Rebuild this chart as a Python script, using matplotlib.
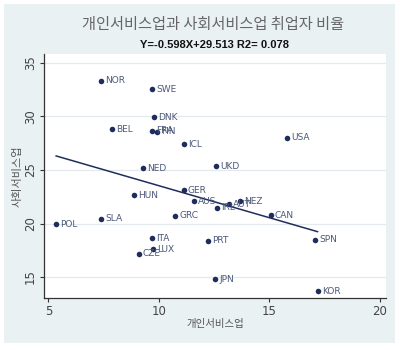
import matplotlib
matplotlib.use("Agg")
import matplotlib.pyplot as plt
from matplotlib.patches import Rectangle
import numpy as np

countries = ["NOR", "SWE", "DNK", "BEL", "FRA", "FIN", "ICL", "NED", "UKD", "USA",
             "GER", "HUN", "AUS", "AUT", "IRL", "NEZ", "CAN", "GRC", "SLA", "POL",
             "SPN", "ITA", "PRT", "LUX", "CZE", "JPN", "KOR"]
personal = [7.36, 9.68, 9.76, 7.86, 9.68, 9.91, 11.12, 9.29, 12.59, 15.79,
            11.12, 8.89, 11.59, 13.17, 12.64, 13.68, 15.06, 10.74, 7.38, 5.35,
            17.06, 9.68, 12.21, 9.74, 9.08, 12.56, 17.18]
social = [33.32, 32.54, 29.93, 28.80, 28.67, 28.58, 27.43, 25.16, 25.37, 28.02,
          23.13, 22.66, 22.10, 21.82, 21.48, 22.10, 20.77, 20.73, 20.45, 19.93,
          18.46, 18.62, 18.39, 17.59, 17.18, 14.81, 13.69]
slope, intercept, r2 = -0.598, 29.513, 0.078
x_ticks = [5, 10, 15, 20]
y_ticks = [15, 20, 25, 30, 35]

kr = ["Noto Sans CJK KR", "DejaVu Sans"]
panel = "#e9f1f3"
navy = "#1f2d5c"

fig = plt.figure(figsize=(4.0, 3.5), dpi=100)
fig.patch.set_facecolor("white")
bg = Rectangle((4 / 400, 1 - 343 / 350), 391 / 400, 339 / 350,
               transform=fig.transFigure, facecolor=panel, edgecolor="none",
               zorder=-10)
fig.add_artist(bg)

ax = fig.add_axes([44 / 400, 1 - 298 / 350, 342 / 400, 244 / 350])
ax.set_zorder(1)
ax.set_facecolor("white")
ax.set_xlim(4.8, 20.28)
ax.set_ylim(13.04, 35.84)

ax.set_yticks(y_ticks)
ax.set_xticks(x_ticks)
ax.grid(axis="y", color="#e3e9ec", linewidth=0.9)
ax.set_axisbelow(True)
for s in ["top", "right"]:
    ax.spines[s].set_visible(False)
for s in ["left", "bottom"]:
    ax.spines[s].set_color("#333333")
    ax.spines[s].set_linewidth(0.9)
ax.tick_params(axis="both", direction="out", length=3, width=0.8, color="#333333",
               labelsize=8.5, labelcolor="#444444")
for lab in ax.get_yticklabels():
    lab.set_rotation(90)
    lab.set_va("center")
ax.tick_params(axis="y", pad=2)
ax.tick_params(axis="x", pad=2)

# fitted line
xs = np.array([min(personal), max(personal)])
ax.plot(xs, slope * xs + intercept, color=navy, linewidth=1.1, zorder=2)

ax.scatter(personal, social, s=16, color=navy, zorder=3, linewidths=0)
for name, xv, yv in zip(countries, personal, social):
    ax.annotate(name, (xv, yv), xytext=(3, 0), textcoords="offset points",
                va="center", ha="left", fontsize=6.5, color="#4a5878",
                family="DejaVu Sans", zorder=4)

ax.set_xlabel("개인서비스업", family=kr, fontsize=7.5, color="#555555", labelpad=1)
ax.set_ylabel("사회서비스업", family=kr, fontsize=8, color="#555555", labelpad=1)

fig.text(213 / 400, 1 - 25 / 350, "개인서비스업과 사회서비스업 취업자 비율",
         family=kr, fontsize=11, color="#666666", ha="center", va="center")
fig.text(214 / 400, 1 - 45 / 350,
         f"Y={slope}X+{intercept} R2= {r2}",
         family="Liberation Sans", fontsize=8, fontweight="bold", color="#111111",
         ha="center", va="center")

fig.savefig("out.png", dpi=100, facecolor=fig.get_facecolor())
